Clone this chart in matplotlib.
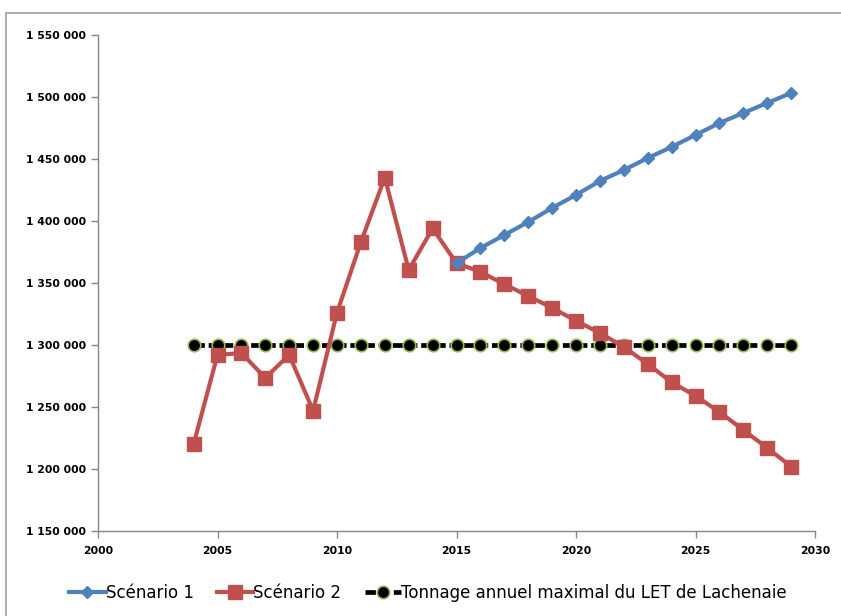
import matplotlib.pyplot as plt
from matplotlib import font_manager
from matplotlib.patches import Rectangle
from matplotlib.ticker import FuncFormatter, MultipleLocator
from matplotlib.lines import Line2D

# annual tonnage, years 2004-2029
years_s2 = list(range(2004, 2030))
scenario_2 = [1220000, 1292000, 1293500, 1273500, 1292000, 1247000, 1326000,
              1383000, 1435000, 1360500, 1394000, 1366000, 1359000, 1349000,
              1339500, 1330000, 1319500, 1309700, 1298400, 1284700, 1270000,
              1259000, 1246000, 1231500, 1217000, 1202000]

years_s1 = list(range(2015, 2030))
scenario_1 = [1366000, 1378200, 1388700, 1399200, 1410500, 1421000, 1432300,
              1441100, 1450800, 1459700, 1469400, 1479000, 1487100, 1495200,
              1503200]

years_cap = list(range(2004, 2030))
capacity = [1300000] * len(years_cap)

labels = ['Scénario 1', 'Scénario 2', 'Tonnage annuel maximal du LET de Lachenaie']

blue = '#4F81BD'
red = '#C0504D'
green = '#9BBB59'
axis_grey = '#868686'

# prefer a narrow face if one is installed
installed = {f.name for f in font_manager.fontManager.ttflist}
narrow = [n for n in ['Liberation Sans Narrow', 'DejaVu Sans Condensed'] if n in installed]
plt.rcParams['font.family'] = narrow + ['DejaVu Sans']
fs_scale = 1.0 if narrow else 0.92

fig = plt.figure(figsize=(8.41, 6.16), dpi=100)
# chart frame
fig.patches.append(Rectangle((6 / 841, -0.1), 1.2, 1 - 13 / 616 + 0.1,
                             transform=fig.transFigure, fill=False,
                             edgecolor='#A0A0A0', linewidth=1.2))

ax = fig.add_axes([98 / 841, 1 - 531 / 616, (815 - 98) / 841, (531 - 35) / 616])

ax.plot(years_cap, capacity, color='black', linestyle=(0, (2.2, 0.8)), linewidth=3.4,
        marker='o', markersize=9, markerfacecolor='black',
        markeredgecolor=green, markeredgewidth=1.2, zorder=2)
ax.plot(years_s2, scenario_2, color=red, linewidth=3.0, marker='s',
        markersize=9.5, zorder=3)
ax.plot(years_s1, scenario_1, color=blue, linewidth=3.0, marker='D',
        markersize=6.5, zorder=4)

ax.set_xlim(2000, 2030)
ax.set_ylim(1150000, 1550000)
ax.xaxis.set_major_locator(MultipleLocator(5))
ax.yaxis.set_major_locator(MultipleLocator(50000))
ax.yaxis.set_major_formatter(FuncFormatter(lambda v, p: f'{int(v):,}'.replace(',', ' ')))

for side in ['top', 'right']:
    ax.spines[side].set_visible(False)
for side in ['left', 'bottom']:
    ax.spines[side].set_color(axis_grey)
    ax.spines[side].set_linewidth(1.0)
ax.tick_params(axis='both', direction='out', length=5, width=1.0, color=axis_grey,
               labelsize=8.5 * fs_scale)
ax.tick_params(axis='x', pad=6)
for lbl in ax.get_xticklabels() + ax.get_yticklabels():
    lbl.set_fontweight('bold')

handles = [
    Line2D([], [], color=blue, linewidth=3.0, marker='D', markersize=6.5),
    Line2D([], [], color=red, linewidth=3.0, marker='s', markersize=9.5),
    Line2D([], [], color='black', linestyle=(0, (2.2, 0.8)), linewidth=3.4, marker='o',
           markersize=9, markerfacecolor='black', markeredgecolor=green,
           markeredgewidth=1.2),
]
fig.legend(handles, labels, loc='center', bbox_to_anchor=(428 / 841, 1 - 593 / 616),
           ncol=3, frameon=False, fontsize=13 * fs_scale, handlelength=2.2,
           handletextpad=0.0, columnspacing=1.4)

plt.savefig('out.png', dpi=100)
